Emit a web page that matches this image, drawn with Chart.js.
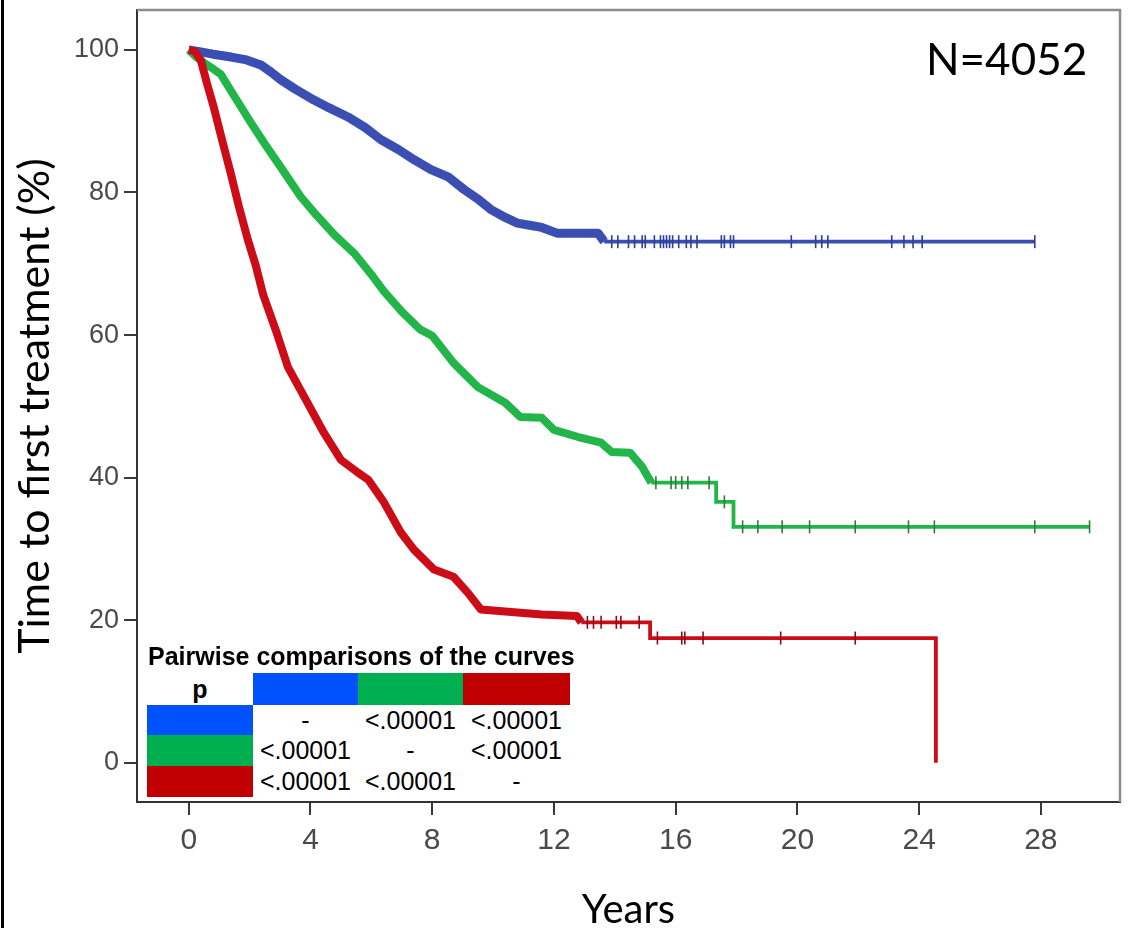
<!DOCTYPE html>
<html>
<head>
<meta charset="utf-8">
<script src="https://cdn.jsdelivr.net/npm/chart.js@4.4.1/dist/chart.umd.min.js"></script>
<style>
html,body{margin:0;padding:0;background:#fff;}
#wrap{position:relative;width:1136px;height:928px;overflow:hidden;background:#fff;}
#c{position:absolute;left:0;top:0;}
.edge{position:absolute;left:1px;top:0;width:3px;height:928px;background:#000;}
#nlabel{position:absolute;left:926px;top:36px;font-family:Lato,sans-serif;font-size:44px;line-height:44px;color:#000;white-space:nowrap;}
.tt{position:absolute;font-family:"Liberation Sans",Arial,sans-serif;font-weight:bold;font-size:25px;line-height:25px;color:#000;white-space:nowrap;}
.cell{position:absolute;display:flex;align-items:center;justify-content:center;font-family:"Liberation Sans",Arial,sans-serif;font-size:25px;color:#000;white-space:nowrap;}
.cell.b{font-weight:bold;}
</style>
</head>
<body>
<div id="wrap">
<canvas id="c" width="1136" height="928"></canvas>
<div class="edge"></div>
<div id="nlabel">N=4052</div>
<div id="table"></div>
</div>
<script>
// ---------------- data ----------------
const xTicks = [0, 4, 8, 12, 16, 20, 24, 28];
const yTicks = [0, 20, 40, 60, 80, 100];

// Kaplan-Meier curves (time in years, % untreated)
const blueT = [0, 0.3, 0.8, 1.4, 1.9, 2.37, 2.7, 3.03, 3.5, 4.1, 4.6, 5.23, 5.8, 6.32, 6.9, 7.4, 7.96, 8.52, 9.05, 9.5, 9.93, 10.4, 10.8, 11.2, 11.6, 12.1, 13.45, 13.65, 27.8];
const blueS = [100, 99.8, 99.4, 99.0, 98.6, 97.9, 96.9, 95.8, 94.5, 93.0, 91.9, 90.6, 89.1, 87.4, 86.0, 84.6, 83.2, 82.2, 80.4, 79.1, 77.6, 76.5, 75.7, 75.4, 75.1, 74.3, 74.3, 73.1, 73.1];

const greenT = [0, 0.25, 0.5, 0.75, 1.05, 1.5, 2.04, 2.5, 3.0, 3.68, 4.2, 4.8, 5.43, 6.0, 6.4, 7.0, 7.6, 8.0, 8.7, 9.5, 10.4, 10.9, 11.6, 12.0, 12.8, 13.55, 13.9, 14.5, 14.9, 15.2, 17.33, 17.9, 29.6];
const greenS = [100, 99.0, 98.2, 97.5, 96.6, 93.5, 89.8, 86.8, 83.7, 79.4, 76.8, 74.0, 71.5, 68.5, 66.2, 63.3, 60.8, 59.9, 56.1, 52.7, 50.5, 48.5, 48.4, 46.7, 45.7, 44.9, 43.6, 43.5, 41.5, 39.3, 36.6, 33.1, 33.1];

const redT = [0, 0.2, 0.4, 0.6, 0.82, 1.1, 1.38, 1.65, 1.94, 2.2, 2.45, 2.9, 3.26, 3.85, 4.44, 5.0, 5.56, 5.9, 6.42, 6.97, 7.4, 8.06, 8.7, 9.18, 9.6, 10.5, 11.6, 12.75, 12.9, 15.16, 24.55];
const redS = [100, 99.8, 98.5, 95.3, 92.0, 87.3, 82.7, 78.0, 73.4, 69.8, 65.6, 60.2, 55.5, 50.9, 46.3, 42.5, 40.7, 39.7, 36.5, 32.3, 29.9, 27.1, 26.1, 23.8, 21.5, 21.2, 20.8, 20.6, 19.7, 17.5, 0];

// censored observations (tick marks)
const blueCensorT = [13.9, 14.1, 14.45, 14.65, 14.9, 15.0, 15.3, 15.5, 15.6, 15.7, 15.8, 15.9, 16.1, 16.35, 16.5, 16.7, 17.5, 17.6, 17.8, 17.9, 19.8, 20.6, 20.8, 21.0, 23.1, 23.5, 23.8, 24.1, 27.8];
const blueCensorS = [73.1, 73.1, 73.1, 73.1, 73.1, 73.1, 73.1, 73.1, 73.1, 73.1, 73.1, 73.1, 73.1, 73.1, 73.1, 73.1, 73.1, 73.1, 73.1, 73.1, 73.1, 73.1, 73.1, 73.1, 73.1, 73.1, 73.1, 73.1, 73.1];
const greenCensorT = [15.35, 15.85, 16.0, 16.2, 16.4, 17.1, 17.6, 18.2, 18.7, 19.5, 20.4, 21.9, 23.65, 24.5, 27.8, 29.6];
const greenCensorS = [39.3, 39.3, 39.3, 39.3, 39.3, 39.3, 36.6, 33.1, 33.1, 33.1, 33.1, 33.1, 33.1, 33.1, 33.1, 33.1];
const redCensorT = [13.1, 13.3, 13.55, 14.05, 14.2, 14.8, 15.4, 16.2, 16.3, 16.9, 19.45, 21.9];
const redCensorS = [19.7, 19.7, 19.7, 19.7, 19.7, 19.7, 17.5, 17.5, 17.5, 17.5, 17.5, 17.5];

// period of dense censoring (drawn as a thick band)
const blueDenseUntil = 13.65;
const greenDenseUntil = 15.2;
const redDenseUntil = 12.9;

// pairwise comparison table
const tableTitle = 'Pairwise comparisons of the curves';
const tableCorner = 'p';
const groupColors = ['#0052ff', '#00b050', '#c00000'];
const pMatrix = [
  ['-', '<.00001', '<.00001'],
  ['<.00001', '-', '<.00001'],
  ['<.00001', '<.00001', '-']
];
const nText = 'N=4052';

// ---------------- helpers ----------------
const pts = (t, s) => t.map((v, i) => ({x: v, y: s[i]}));

const lineCol = {blue: '#3b4fb3', green: '#22b54a', red: '#cc0c16'};
const tickCol = {blue: '#2e3f96', green: '#2f7a3d', red: '#8e0a10'};

function curveFrom(t, s, lim, col) {
  return {data: pts(t, s).filter(p => p.x >= lim), borderColor: col, borderWidth: 3.8, stepped: 'before',
    pointRadius: 0, fill: false, borderJoinStyle: 'miter', borderCapStyle: 'butt'};
}
function band(t, s, lim, col, w) {
  return {data: pts(t, s).filter(p => p.x <= lim), borderColor: col, borderWidth: w,
    pointRadius: 0, fill: false, tension: 0, borderJoinStyle: 'round', borderCapStyle: 'butt'};
}
function censors(t, s, col) {
  return {data: pts(t, s), showLine: false, pointStyle: 'line', rotation: 90,
    pointRadius: 6.5, pointBorderWidth: 1.6, pointBorderColor: col, pointBackgroundColor: col};
}

const framePlugin = {
  id: 'frame',
  beforeDatasetsDraw(chart) {
    const {ctx, chartArea: a} = chart;
    ctx.save();
    ctx.strokeStyle = '#8c8c8c';
    ctx.lineWidth = 2.5;
    ctx.beginPath();
    ctx.moveTo(a.left, a.top);
    ctx.lineTo(a.right, a.top);
    ctx.lineTo(a.right, a.bottom);
    ctx.stroke();
    ctx.restore();
  }
};

new Chart(document.getElementById('c'), {
  type: 'line',
  data: {
    datasets: [
      censors(redCensorT, redCensorS, tickCol.red),
      censors(greenCensorT, greenCensorS, tickCol.green),
      censors(blueCensorT, blueCensorS, tickCol.blue),
      band(redT, redS, redDenseUntil, lineCol.red, 8),
      curveFrom(redT, redS, redDenseUntil, lineCol.red),
      band(greenT, greenS, greenDenseUntil, lineCol.green, 8),
      curveFrom(greenT, greenS, greenDenseUntil, lineCol.green),
      band(blueT, blueS, blueDenseUntil, lineCol.blue, 9),
      curveFrom(blueT, blueS, blueDenseUntil, lineCol.blue)
    ]
  },
  options: {
    responsive: false,
    devicePixelRatio: 1,
    animation: false,
    layout: {padding: {left: 0, top: 10, right: 16, bottom: 0}},
    plugins: {legend: {display: false}, tooltip: {enabled: false}},
    scales: {
      x: {
        type: 'linear', min: -1.7, max: 30.6,
        afterBuildTicks: s => { s.ticks = xTicks.map(v => ({value: v})); },
        afterFit: s => { s.height = 126; s.paddingLeft = 0; s.paddingRight = 0; },
        grid: {drawOnChartArea: false, drawTicks: true, tickLength: 13, color: '#3a3a3a', lineWidth: 2},
        border: {display: true, color: '#333', width: 2},
        ticks: {color: '#4a4a4a', autoSkip: false, maxRotation: 0, padding: 8,
          font: {family: '"Liberation Sans", Arial, sans-serif', size: 30}},
        title: {display: true, text: 'Years', color: '#000', padding: 0,
          font: {family: 'Lato, sans-serif', size: 40, lineHeight: 0.9}}
      },
      y: {
        type: 'linear', min: -5.5, max: 105.6,
        afterBuildTicks: s => { s.ticks = yTicks.map(v => ({value: v})); },
        afterFit: s => { s.width = 137; s.paddingTop = 0; s.paddingBottom = 0; },
        grid: {drawOnChartArea: false, drawTicks: true, tickLength: 13, color: '#3a3a3a', lineWidth: 2},
        border: {display: true, color: '#333', width: 2},
        ticks: {color: '#4a4a4a', padding: 5,
          font: {family: '"Liberation Sans", Arial, sans-serif', size: 27}},
        title: {display: true, text: 'Time to first treatment (%)', color: '#000', padding: {top: 14, bottom: 0},
          font: {family: 'Lato, sans-serif', size: 43, lineHeight: 1}}
      }
    }
  },
  plugins: [framePlugin]
});

// ---------------- table overlay ----------------
(function buildTable() {
  const host = document.getElementById('table');
  const colEdges = [147, 253, 358, 463, 570];
  const rowEdges = [673, 705, 735, 766, 797];
  const title = document.createElement('div');
  title.className = 'tt';
  title.style.left = '148px';
  title.style.top = '644px';
  title.textContent = tableTitle;
  host.appendChild(title);
  function cell(r, c, text, bg, bold) {
    const d = document.createElement('div');
    d.className = 'cell' + (bold ? ' b' : '');
    d.style.left = colEdges[c] + 'px';
    d.style.top = rowEdges[r] + 'px';
    d.style.width = (colEdges[c + 1] - colEdges[c]) + 'px';
    d.style.height = (rowEdges[r + 1] - rowEdges[r]) + 'px';
    d.style.background = bg;
    d.textContent = text;
    host.appendChild(d);
  }
  cell(0, 0, tableCorner, '#fff', true);
  groupColors.forEach((col, i) => cell(0, i + 1, '', col, false));
  pMatrix.forEach((row, r) => {
    cell(r + 1, 0, '', groupColors[r], false);
    row.forEach((txt, c) => cell(r + 1, c + 1, txt, '#fff', false));
  });
  document.getElementById('nlabel').textContent = nText;
})();
</script>
</body>
</html>
